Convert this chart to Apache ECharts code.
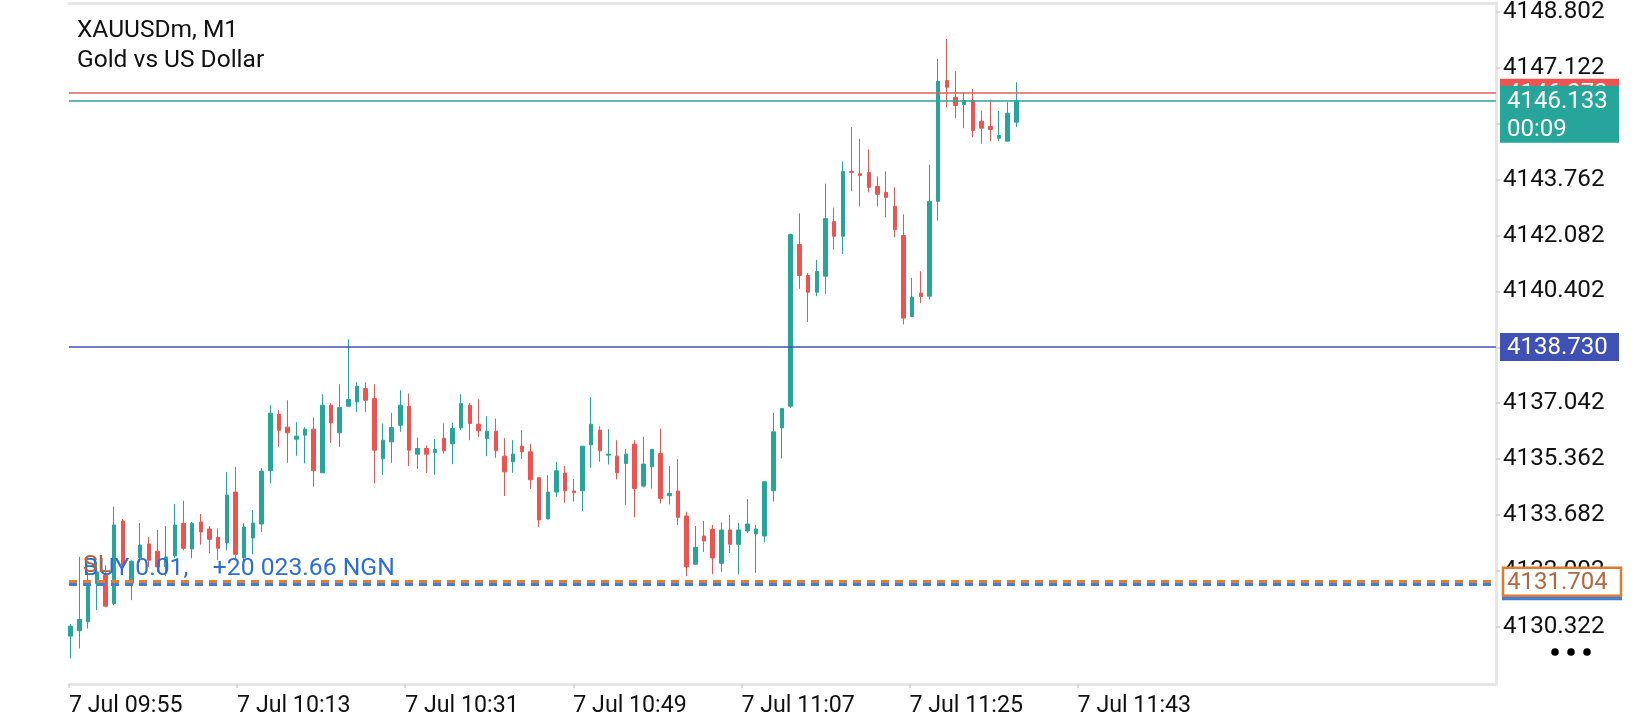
<!DOCTYPE html>
<html>
<head>
<meta charset="utf-8">
<title>XAUUSDm, M1</title>
<script src="https://cdn.jsdelivr.net/npm/echarts@6/dist/echarts.min.js"></script>
<style>
html, body { margin: 0; padding: 0; background: #fff; }
#main { width: 1640px; height: 720px; }
</style>
</head>
<body>
<div id="main"></div>
<script>
// bottom time labels, one every 18 minutes
var timeLabels = ['7 Jul 09:55', '7 Jul 10:13', '7 Jul 10:31', '7 Jul 10:49', '7 Jul 11:07', '7 Jul 11:25', '7 Jul 11:43'];
var timeStep = 18;
// right price scale ticks
var priceTicks = [4130.322, 4132.002, 4133.682, 4135.362, 4137.042, 4138.722, 4140.402, 4142.082, 4143.762, 4145.442, 4147.122, 4148.802];

// M1 candles, oldest first
var opens = [
	4130.04, 4130.20, 4130.47, 4131.62, 4131.87, 4131.02, 4133.50, 4131.63, 4132.40, 4132.81,
	4132.59, 4132.12, 4132.45, 4133.43, 4132.66, 4133.47, 4133.26, 4133.01, 4132.84, 4134.37,
	4132.39, 4132.99, 4133.41, 4135.01, 4136.71, 4136.32, 4135.96, 4136.08, 4136.26, 4134.95,
	4136.98, 4136.15, 4136.95, 4137.08, 4137.48, 4137.18, 4135.37, 4135.88, 4136.38, 4136.95,
	4135.51, 4135.68, 4135.55, 4135.99, 4135.82, 4136.30, 4136.98, 4136.41, 4135.97, 4136.20,
	4135.45, 4135.28, 4135.75, 4135.58, 4134.80, 4133.56, 4134.37, 4134.94, 4134.40, 4134.41,
	4135.79, 4136.23, 4135.48, 4135.45, 4135.23, 4135.81, 4134.55, 4135.13, 4135.53, 4134.26,
	4134.40, 4133.65, 4132.20, 4133.05, 4133.25, 4132.23, 4133.23, 4132.80, 4133.20, 4133.11,
	4133.05, 4134.41, 4136.30, 4136.95, 4141.81, 4140.88, 4140.38, 4140.86, 4142.50, 4142.06,
	4144.01, 4143.94, 4143.98, 4143.56, 4143.38, 4142.96, 4142.08, 4139.65, 4140.35, 4140.26,
	4143.11, 4146.74, 4146.24, 4146.02, 4146.14, 4145.52, 4145.36, 4145.01, 4144.92, 4145.49
];
var closes = [
	4130.34, 4130.54, 4131.62, 4131.97, 4130.94, 4133.38, 4132.17, 4132.29, 4132.78, 4132.32,
	4132.12, 4132.42, 4133.38, 4132.68, 4133.43, 4133.17, 4132.95, 4132.68, 4134.28, 4132.50,
	4133.32, 4133.44, 4135.00, 4136.74, 4136.23, 4136.15, 4136.05, 4136.26, 4135.01, 4136.98,
	4136.45, 4136.91, 4137.15, 4137.55, 4137.13, 4135.63, 4135.93, 4136.31, 4136.98, 4135.63,
	4135.68, 4135.51, 4135.65, 4135.61, 4136.28, 4137.03, 4136.43, 4136.21, 4136.20, 4135.61,
	4134.98, 4135.51, 4135.58, 4134.74, 4133.53, 4134.37, 4135.01, 4134.41, 4134.35, 4135.75,
	4136.41, 4135.61, 4135.51, 4134.95, 4135.51, 4134.48, 4135.21, 4135.65, 4134.18, 4134.33,
	4133.61, 4132.12, 4132.71, 4132.90, 4132.39, 4133.23, 4132.80, 4133.23, 4133.41, 4133.26,
	4134.68, 4136.18, 4136.88, 4142.11, 4140.88, 4140.38, 4141.00, 4142.59, 4142.06, 4144.01,
	4143.98, 4143.89, 4143.53, 4143.32, 4143.23, 4142.26, 4139.60, 4140.23, 4140.25, 4143.11,
	4146.72, 4146.54, 4145.99, 4146.14, 4145.24, 4145.31, 4145.27, 4145.09, 4145.76, 4146.133
];
var lows = [
	4129.37, 4129.67, 4130.27, 4130.82, 4130.91, 4130.97, 4132.08, 4131.12, 4132.26, 4132.11,
	4131.96, 4131.84, 4132.38, 4132.62, 4132.38, 4132.79, 4132.53, 4132.32, 4132.62, 4132.32,
	4132.12, 4132.50, 4133.17, 4134.63, 4135.73, 4135.25, 4135.46, 4135.23, 4134.53, 4134.95,
	4135.85, 4135.73, 4136.95, 4136.78, 4136.78, 4134.63, 4134.88, 4135.25, 4136.18, 4135.15,
	4135.07, 4134.95, 4134.89, 4135.53, 4135.21, 4136.23, 4135.93, 4136.03, 4135.45, 4135.40,
	4134.25, 4134.95, 4135.36, 4134.47, 4133.32, 4133.56, 4134.23, 4134.05, 4134.08, 4133.80,
	4135.10, 4135.28, 4135.20, 4134.75, 4133.99, 4133.61, 4134.51, 4134.48, 4134.03, 4134.00,
	4133.38, 4131.84, 4132.20, 4132.57, 4131.90, 4131.97, 4132.54, 4131.90, 4133.14, 4131.94,
	4132.86, 4134.08, 4135.38, 4136.90, 4140.48, 4139.48, 4140.26, 4140.33, 4141.66, 4141.53,
	4143.41, 4142.96, 4143.38, 4142.96, 4142.63, 4142.03, 4139.41, 4139.63, 4140.05, 4140.16,
	4142.53, 4145.94, 4145.61, 4145.31, 4145.04, 4144.84, 4144.92, 4144.92, 4144.92, 4145.34
];
var highs = [
	4130.40, 4132.42, 4131.97, 4132.26, 4132.17, 4133.93, 4133.56, 4132.32, 4133.44, 4133.02,
	4133.23, 4133.35, 4134.01, 4134.11, 4133.47, 4133.71, 4133.35, 4133.28, 4134.97, 4135.13,
	4133.44, 4133.83, 4135.09, 4136.98, 4136.83, 4137.13, 4136.47, 4136.32, 4136.61, 4137.31,
	4137.05, 4137.61, 4138.96, 4137.67, 4137.67, 4137.61, 4136.43, 4136.75, 4137.43, 4137.33,
	4136.01, 4135.77, 4135.96, 4136.43, 4136.45, 4137.31, 4137.05, 4137.16, 4136.65, 4136.58,
	4135.99, 4135.93, 4136.23, 4135.81, 4134.80, 4134.88, 4135.28, 4135.15, 4134.76, 4135.75,
	4137.23, 4136.35, 4136.26, 4135.93, 4135.66, 4135.93, 4136.03, 4135.65, 4136.28, 4135.15,
	4135.36, 4133.78, 4133.35, 4133.50, 4133.38, 4133.46, 4133.68, 4133.44, 4134.16, 4133.38,
	4134.68, 4136.75, 4136.88, 4142.14, 4142.75, 4140.95, 4141.35, 4143.64, 4142.92, 4144.31,
	4145.34, 4144.99, 4144.67, 4143.86, 4144.01, 4143.53, 4142.72, 4140.81, 4141.01, 4144.21,
	4147.39, 4147.99, 4147.02, 4146.39, 4146.49, 4145.84, 4146.17, 4145.82, 4146.09, 4146.69
];

// horizontal levels
var bidPrice = 4146.133;
var askPrice = 4146.373;
var alertPrice = 4138.730;
var slPrice = 4131.704;
var buyPrice = 4131.600;
var buyText = 'BUY 0.01,    +20 023.66 NGN';
var timerText = '00:09';

var UP = '#26a69a', DOWN = '#ef5350', BORDER = '#e6e6e6', FONT = 'Roboto';

var myChart = echarts.init(document.getElementById('main'));

var candles = opens.map(function(o, i) {
	return [i, o, closes[i], lows[i], highs[i]];
});
var timeTickValues = timeLabels.map(function(t, i) { return i * timeStep; });

option = {
	animation: false,
	textStyle: { fontFamily: FONT },
	title: {
		text: 'XAUUSDm, M1\nGold vs US Dollar',
		left: 77,
		top: 16,
		padding: 0,
		textStyle: { fontSize: 24.5, fontWeight: 'normal', color: '#111', lineHeight: 30, fontFamily: FONT }
	},
	grid: { left: 69, right: 144, top: 2, bottom: 36 },
	xAxis: [
		{
			// candle index axis (also draws the top border)
			type: 'value', min: -0.2, max: 164.3, position: 'top',
			axisLine: { show: true, onZero: false, lineStyle: { color: BORDER, width: 3 } },
			axisTick: { show: false }, axisLabel: { show: false }, splitLine: { show: false }
		},
		{
			// minutes since 09:55, just for the time labels
			type: 'value', min: 0, max: 152.8, position: 'bottom',
			axisLine: { show: true, onZero: false, lineStyle: { color: BORDER, width: 3 } },
			axisTick: {
				show: true, length: 4, lineStyle: { color: '#cfcfcf', width: 1.5 },
				customValues: timeTickValues
			},
			axisLabel: {
				customValues: timeTickValues,
				formatter: function(v) { return timeLabels[Math.round(v / timeStep)] || ''; },
				align: 'left', fontSize: 23.2, color: '#111', margin: 11, fontFamily: FONT
			},
			splitLine: { show: false }
		}
	],
	yAxis: {
		type: 'value', position: 'right', min: 4128.60, max: 4149.08, scale: true,
		axisLine: { show: true, onZero: false, lineStyle: { color: BORDER, width: 3 } },
		axisTick: { show: true, length: 4, lineStyle: { color: '#cfcfcf', width: 1.5 }, customValues: priceTicks },
		axisLabel: {
			customValues: priceTicks,
			formatter: function(v) { return v.toFixed(3); },
			fontSize: 24.2, color: '#111', margin: 7, padding: [4, 0, 0, 0], fontFamily: FONT
		},
		splitLine: { show: false }
	},
	series: [{
		type: 'candlestick',
		xAxisIndex: 0,
		yAxisIndex: 0,
		data: candles,
		barWidth: 4,
		clip: true,
		silent: true,
		itemStyle: { color: UP, color0: DOWN, borderColor: UP, borderColor0: DOWN, borderWidth: 1 },
		markLine: {
			silent: true,
			symbol: ['none', 'none'],
			animation: false,
			data: [
				{ yAxis: askPrice, lineStyle: { color: '#e0605a', width: 1.6, type: 'solid' }, label: { show: false } },
				{ yAxis: bidPrice, lineStyle: { color: UP, width: 1.6, type: 'solid' }, label: { show: false } },
				{ yAxis: alertPrice, lineStyle: { color: '#3f51b5', width: 1.6, type: 'solid' }, label: { show: false } },
				{
					yAxis: buyPrice, lineStyle: { color: '#3d7fdb', width: 3, type: [8, 6] },
					label: { show: true, position: 'insideStartTop', formatter: buyText, color: '#2b6fd6', fontSize: 24.7, fontFamily: FONT, distance: [14, 3] }
				},
				{
					yAxis: slPrice, lineStyle: { color: '#e67c2e', width: 3, type: [8, 6] },
					label: { show: true, position: 'insideStartTop', formatter: 'SL', color: '#b0653c', fontSize: 24.7, fontFamily: FONT, distance: [14, 3] }
				}
			]
		}
	}]
};
myChart.setOption(option);

// price tags on the right, placed through the chart's own scales
function py(p) { return myChart.convertToPixel({ yAxisIndex: 0 }, p); }
var tagX = myChart.convertToPixel({ xAxisIndex: 0 }, 164.3) + 4;
var tagW = 119;
function tagText(txt, y, color, z) {
	return { type: 'text', z: z, x: tagX + 7, y: y, style: { text: txt, fill: color, fontSize: 24, fontFamily: FONT, verticalAlign: 'middle', align: 'left' } };
}
var askY = py(askPrice), bidY = py(bidPrice), alertY = py(alertPrice), slY = py(slPrice), buyY = py(buyPrice);
var g = [
	{ type: 'rect', z: 100, shape: { x: tagX, y: askY - 14, width: tagW, height: 28 }, style: { fill: DOWN } },
	tagText(askPrice.toFixed(3), askY + 1, '#fff', 101),
	{ type: 'rect', z: 102, shape: { x: tagX, y: bidY - 15, width: tagW, height: 57 }, style: { fill: UP } },
	tagText(bidPrice.toFixed(3), bidY + 1, '#fff', 103),
	tagText(timerText, bidY + 29, '#fff', 103),
	{ type: 'rect', z: 100, shape: { x: tagX, y: alertY - 14, width: tagW, height: 28 }, style: { fill: '#3f51b5' } },
	tagText(alertPrice.toFixed(3), alertY + 1, '#fff', 101),
	{ type: 'rect', z: 100, shape: { x: tagX + 2, y: buyY - 14, width: tagW + 1, height: 30 }, style: { fill: '#3d7fdb' } },
	{ type: 'rect', z: 102, shape: { x: tagX + 3, y: slY - 13, width: tagW - 1, height: 28 }, style: { fill: '#fff', stroke: '#e07b2e', lineWidth: 2.5 } },
	tagText(slPrice.toFixed(3), slY + 2, '#b5683e', 103)
];
// the three-dot menu
[0, 1, 2].forEach(function(k) {
	g.push({ type: 'circle', z: 100, shape: { cx: tagX + 55 + k * 16, cy: 652, r: 3.8 }, style: { fill: '#000' } });
});
myChart.setOption({ graphic: g });

window.addEventListener('resize', function() {
	myChart.resize();
});
</script>
</body>
</html>
